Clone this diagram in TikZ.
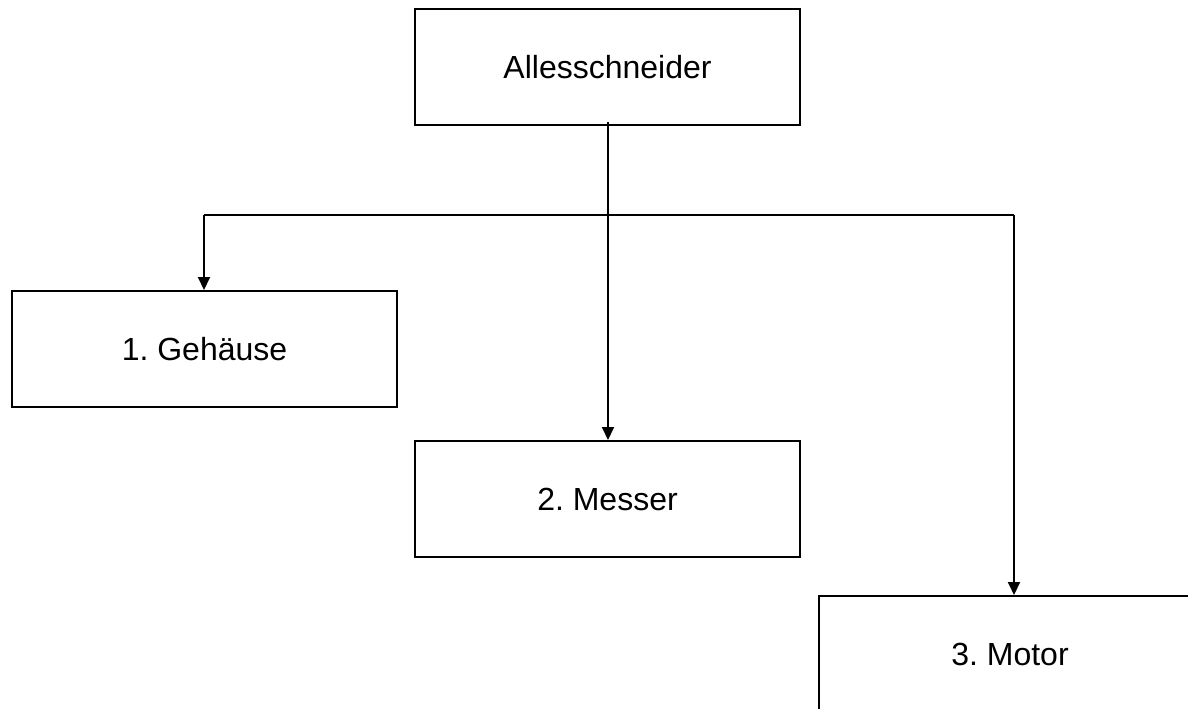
\documentclass[tikz,border=0pt]{standalone}
\usepackage{fontspec}
\setmainfont{Liberation Sans}
\usetikzlibrary{arrows.meta}
\frenchspacing
\begin{document}
\begin{tikzpicture}[x=1pt,y=-1pt,
  box/.style={draw,line width=2pt,minimum width=385pt,minimum height=116pt,
    inner sep=0pt,font=\fontsize{32}{38}\selectfont},
  link/.style={line width=2pt,-{Triangle[width=12pt,length=13pt]}},
  plain/.style={line width=2pt}]
  \useasboundingbox (0,0) rectangle (1188,709);
  \clip (0,0) rectangle (1188,709);
  % boxes
  \node[box] (top) at (607.5,67) {Allesschneider};
  \node[box] (geh) at (204.5,349) {1. Gehäuse};
  \node[box] (mes) at (607.5,499) {2. Messer};
  \node[box,minimum width=382pt] (mot) at (1010,654) {3. Motor};
  % branch line and drop points
  \coordinate (hl) at (204,215);
  \coordinate (hr) at (1014,215);
  \coordinate (hm) at (608,122);
  \draw[plain] (hl) -- (hr);
  % connectors
  \draw[link] (hm) -- (mes.north -| hm);
  \draw[link] (hl) -- (geh.north -| hl);
  \draw[link] (hr) -- (mot.north -| hr);
\end{tikzpicture}
\end{document}
